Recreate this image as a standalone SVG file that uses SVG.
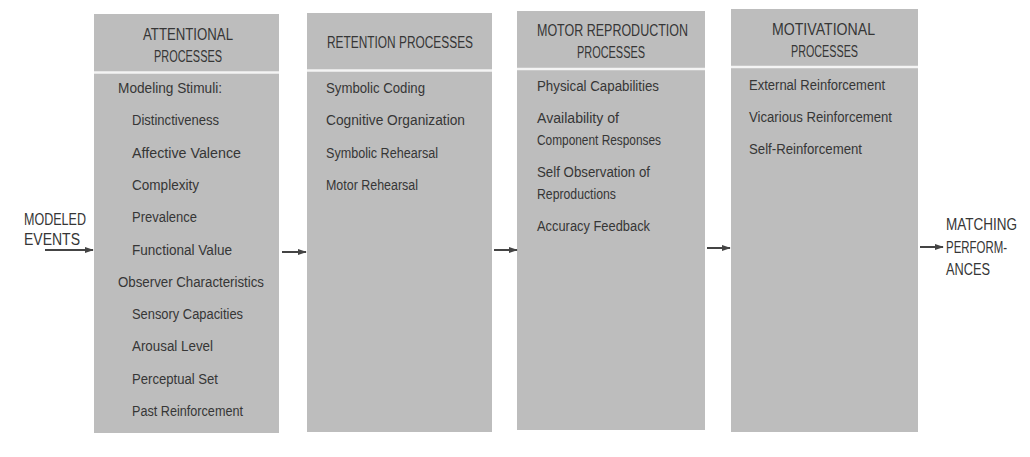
<svg xmlns="http://www.w3.org/2000/svg" width="1030" height="457" viewBox="0 0 1030 457">
<defs>
<style>
.box{fill:#bdbdbd}
.div{stroke:#f4f4f4;stroke-width:2.5}
text{font-family:"Liberation Sans",Arial,sans-serif;fill:#363636}
.h{font-size:16px}
.b{font-size:14px}
.l{font-size:16px}
.c{stroke:#444;stroke-width:2;fill:none}
</style>
<marker id="ah" viewBox="0 0 10 10" refX="9" refY="5" markerWidth="9" markerHeight="9" markerUnits="userSpaceOnUse" orient="auto">
<path d="M0,1.5 L10,5 L0,8.5 Z" fill="#444"/>
</marker>
</defs>
<rect width="1030" height="457" fill="#ffffff"/>

<g id="attentional">
<rect class="box" x="94" y="14" width="185" height="419"/>
<line class="div" x1="94" y1="72.5" x2="279" y2="72.5"/>
<text class="h" x="143" y="40" textLength="90" lengthAdjust="spacingAndGlyphs">ATTENTIONAL</text>
<text class="h" x="154" y="62" textLength="68" lengthAdjust="spacingAndGlyphs">PROCESSES</text>
<text class="b" x="118" y="93" textLength="104" lengthAdjust="spacingAndGlyphs">Modeling Stimuli:</text>
<text class="b" x="132" y="125" textLength="87" lengthAdjust="spacingAndGlyphs">Distinctiveness</text>
<text class="b" x="132" y="158" textLength="109" lengthAdjust="spacingAndGlyphs">Affective Valence</text>
<text class="b" x="132" y="190" textLength="67" lengthAdjust="spacingAndGlyphs">Complexity</text>
<text class="b" x="132" y="222" textLength="65" lengthAdjust="spacingAndGlyphs">Prevalence</text>
<text class="b" x="132" y="255" textLength="100" lengthAdjust="spacingAndGlyphs">Functional Value</text>
<text class="b" x="118" y="287" textLength="146" lengthAdjust="spacingAndGlyphs">Observer Characteristics</text>
<text class="b" x="132" y="319" textLength="111" lengthAdjust="spacingAndGlyphs">Sensory Capacities</text>
<text class="b" x="132" y="351" textLength="81" lengthAdjust="spacingAndGlyphs">Arousal Level</text>
<text class="b" x="132" y="384" textLength="86" lengthAdjust="spacingAndGlyphs">Perceptual Set</text>
<text class="b" x="132" y="416" textLength="111" lengthAdjust="spacingAndGlyphs">Past Reinforcement</text>
</g>

<g id="retention">
<rect class="box" x="307" y="13" width="185" height="419"/>
<line class="div" x1="307" y1="70.5" x2="492" y2="70.5"/>
<text class="h" x="327" y="48" textLength="146" lengthAdjust="spacingAndGlyphs">RETENTION PROCESSES</text>
<text class="b" x="326" y="93" textLength="99" lengthAdjust="spacingAndGlyphs">Symbolic Coding</text>
<text class="b" x="326" y="125" textLength="139" lengthAdjust="spacingAndGlyphs">Cognitive Organization</text>
<text class="b" x="326" y="158" textLength="112" lengthAdjust="spacingAndGlyphs">Symbolic Rehearsal</text>
<text class="b" x="326" y="190" textLength="92" lengthAdjust="spacingAndGlyphs">Motor Rehearsal</text>
</g>

<g id="motor">
<rect class="box" x="517" y="11" width="188" height="419"/>
<line class="div" x1="517" y1="69" x2="705" y2="69"/>
<text class="h" x="537" y="36" textLength="151" lengthAdjust="spacingAndGlyphs">MOTOR REPRODUCTION</text>
<text class="h" x="577" y="58" textLength="68" lengthAdjust="spacingAndGlyphs">PROCESSES</text>
<text class="b" x="537" y="91" textLength="122" lengthAdjust="spacingAndGlyphs">Physical Capabilities</text>
<text class="b" x="537" y="123" textLength="82" lengthAdjust="spacingAndGlyphs">Availability of</text>
<text class="b" x="537" y="145" textLength="124" lengthAdjust="spacingAndGlyphs">Component Responses</text>
<text class="b" x="537" y="177" textLength="113" lengthAdjust="spacingAndGlyphs">Self Observation of</text>
<text class="b" x="537" y="199" textLength="79" lengthAdjust="spacingAndGlyphs">Reproductions</text>
<text class="b" x="537" y="231" textLength="113" lengthAdjust="spacingAndGlyphs">Accuracy Feedback</text>
</g>

<g id="motivational">
<rect class="box" x="731" y="9" width="187" height="423"/>
<line class="div" x1="731" y1="67" x2="918" y2="67"/>
<text class="h" x="772" y="35" textLength="103" lengthAdjust="spacingAndGlyphs">MOTIVATIONAL</text>
<text class="h" x="791" y="57" textLength="67" lengthAdjust="spacingAndGlyphs">PROCESSES</text>
<text class="b" x="749" y="90" textLength="136" lengthAdjust="spacingAndGlyphs">External Reinforcement</text>
<text class="b" x="749" y="122" textLength="143" lengthAdjust="spacingAndGlyphs">Vicarious Reinforcement</text>
<text class="b" x="749" y="154" textLength="113" lengthAdjust="spacingAndGlyphs">Self-Reinforcement</text>
</g>

<g id="modeled-events">
<text class="l" x="24" y="225" textLength="62" lengthAdjust="spacingAndGlyphs">MODELED</text>
<text class="l" x="24" y="245" textLength="56" lengthAdjust="spacingAndGlyphs">EVENTS</text>
</g>

<g id="matching-performances">
<text class="l" x="946" y="230" textLength="71" lengthAdjust="spacingAndGlyphs">MATCHING</text>
<text class="l" x="946" y="253" textLength="61" lengthAdjust="spacingAndGlyphs">PERFORM-</text>
<text class="l" x="946" y="275" textLength="44" lengthAdjust="spacingAndGlyphs">ANCES</text>
</g>

<g id="connectors">
<line class="c" x1="45" y1="250" x2="93" y2="250" marker-end="url(#ah)"/>
<line class="c" x1="282" y1="252" x2="306" y2="252" marker-end="url(#ah)"/>
<line class="c" x1="494" y1="250" x2="517" y2="250" marker-end="url(#ah)"/>
<line class="c" x1="707" y1="248" x2="730" y2="248" marker-end="url(#ah)"/>
<line class="c" x1="920" y1="247" x2="943" y2="247" marker-end="url(#ah)"/>
</g>
</svg>
